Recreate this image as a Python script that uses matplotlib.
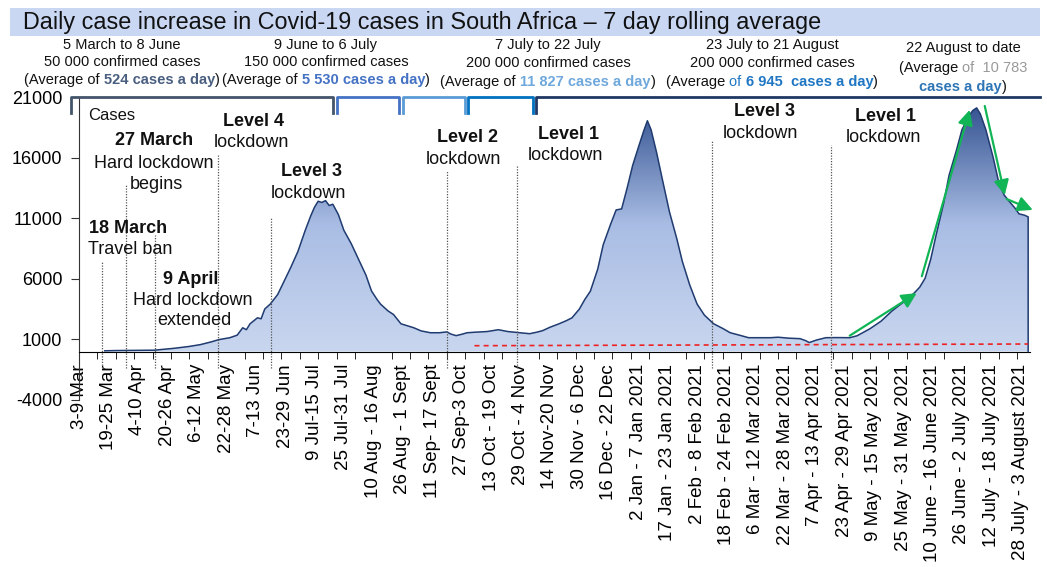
import numpy as np
import matplotlib
matplotlib.use('Agg')
from matplotlib import pyplot as plt
from matplotlib.colors import LinearSegmentedColormap
from matplotlib.patches import PathPatch, Rectangle

plt.rcParams['font.family'] = ['Liberation Sans', 'DejaVu Sans']
plt.rcParams['axes.unicode_minus'] = False

# 7 day rolling average (x = days since 3 March 2020)
days = [14, 20, 30, 41, 52, 60, 66, 72, 76, 82, 86, 89, 91, 93, 97, 99, 101, 104, 108, 111,
        115, 119, 123, 126, 128, 130, 132, 134, 136, 138, 141, 144, 148, 152, 156, 159, 162,
        164, 168, 171, 175, 178, 182, 186, 191, 196, 200, 202, 205, 208, 211, 216, 222, 228,
        233, 240, 245, 249, 252, 256, 261, 265, 268, 272, 275, 278, 282, 285, 289, 292, 295,
        298, 301, 304, 307, 309, 311, 314, 317, 321, 325, 328, 332, 336, 340, 345, 350, 354,
        359, 364, 370, 376, 380, 386, 392, 395, 397, 401, 406, 412, 419, 423, 426, 430, 436,
        442, 448, 454, 457, 460, 463, 466, 470, 473, 477, 480, 484, 486, 488, 490, 493, 497,
        500, 503, 506, 509, 511, 514, 516]
cases = [60, 80, 90, 110, 270, 420, 570, 800, 980, 1140, 1350, 1960, 1800, 2290, 2780, 2700,
         3510, 3920, 4700, 5640, 6900, 8250, 10000, 11200, 11900, 12400, 12300, 12450, 12050,
         12150, 11300, 10000, 8900, 7600, 6300, 5000, 4300, 3900, 3350, 3050, 2290, 2150, 1960,
         1700, 1550, 1550, 1620, 1450, 1310, 1420, 1550, 1600, 1650, 1800, 1650, 1550, 1470,
         1600, 1720, 2000, 2290, 2550, 2780, 3500, 4300, 4980, 6800, 8820, 10500, 11680, 11770,
         13500, 15360, 16800, 18200, 19040, 18300, 16420, 14300, 11520, 9300, 7430, 5500, 3920,
         3000, 2290, 1900, 1550, 1350, 1140, 1140, 1140, 1180, 1100, 1060, 900, 740, 950, 1140,
         1150, 1140, 1300, 1550, 1880, 2500, 3350, 4050, 4820, 5300, 6050, 7600, 9640, 12200,
         14540, 16600, 18300, 19500, 19900, 20100, 19600, 18300, 16000, 13970, 12900, 12340,
         11800, 11360, 11250, 11110]

week_labels = ['3-9 Mar', '19-25 Mar', '4-10 Apr', '20-26 Apr', '6-12 May', '22-28 May',
               '7-13 Jun', '23-29 Jun', '9 Jul-15 Jul', '25 Jul-31 Jul', '10 Aug - 16 Aug',
               '26 Aug - 1 Sept', '11 Sep- 17 Sept', '27 Sep-3 Oct', '13 Oct - 19 Oct',
               '29 Oct - 4 Nov', '14 Nov-20 Nov', '30 Nov - 6 Dec', '16 Dec - 22 Dec',
               '2 Jan - 7 Jan 2021', '17 Jan - 23 Jan 2021', '2 Feb - 8 Feb 2021',
               '18 Feb - 24 Feb 2021', '6 Mar - 12 Mar 2021', '22 Mar - 28 Mar 2021',
               '7 Apr - 13 Apr 2021', '23 Apr - 29 Apr 2021', '9 May - 15 May 2021',
               '25 May - 31 May 2021', '10 June - 16 June 2021', '26 June - 2 July 2021',
               '12 July - 18 July 2021', '28 July - 3 August 2021']

# event markers (day, height of dotted line)
event_days = [12.3, 25.5, 41.3, 75.5, 104.3, 200, 238, 344, 408.7]
event_tops = [7430, 13700, 9640, 16180, 11100, 14950, 15280, 17400, 17000]

# red reference line
ref_days = [215, 516]
ref_cases = [480, 620]

# green trend arrows (start day, start cases, end day, end cases)
arrows = [(419, 1307, 455.4, 4820), (458.2, 6209, 484.2, 19935),
          (492.4, 20262, 503.3, 12909), (504.3, 12582, 518.5, 11683)]

W, H = 1047, 567
fig = plt.figure(figsize=(W / 100, H / 100), dpi=100)
ax = fig.add_axes([79 / W, 1 - 400 / H, (1030 - 79) / W, (400 - 97) / H])

# gradient area
poly = ax.fill_between(days, cases, 0, color='none', lw=0)
cmap = LinearSegmentedColormap.from_list('blu', ['#c9d6ef', '#a9bde4', '#2d4c8c'])
grad = np.linspace(0, 1, 256).reshape(-1, 1)
im = ax.imshow(grad, extent=[0, 517, 0, 21000], origin='lower', aspect='auto',
               cmap=cmap, zorder=1)
clip = PathPatch(poly.get_paths()[0], transform=ax.transData, facecolor='none', edgecolor='none')
ax.add_patch(clip)
im.set_clip_path(clip)
ax.plot(days + [days[-1]], cases + [0], color='#1f3b70', lw=1.1, zorder=3)

ax.plot(ref_days, ref_cases, color='#ee2222', ls=(0, (3, 2.5)), lw=1.2, zorder=4)
ax.vlines(event_days, -1400, event_tops, colors='#555555', linestyles=(0, (1, 1.2)), lw=0.9, zorder=4)

for x0, y0, x1, y1 in arrows:
    ax.annotate('', xy=(x1, y1), xytext=(x0, y0), annotation_clip=False,
                arrowprops=dict(arrowstyle='-|>,head_length=0.9,head_width=0.45',
                                color='#12b556', lw=1.6, shrinkA=0, shrinkB=0), zorder=5)

# annotations in the plot
notes = [(40.8, 17400, '27 March', True), (40.6, 15520, 'Hard lockdown', False),
         (42.2, 13800, 'begins', False), (26.5, 10130, '18 March', True),
         (28, 8410, 'Travel ban', False), (60.8, 5960, '9 April', True),
         (62.1, 4170, 'Hard lockdown', False), (62.5, 2530, 'extended', False),
         (94.6, 18950, 'Level 4', True), (93.5, 17240, 'lockdown', False),
         (126.5, 14870, 'Level 3', True), (124.9, 13070, 'lockdown', False),
         (211.2, 17650, 'Level 2', True), (209.2, 15850, 'lockdown', False),
         (266.1, 17890, 'Level 1', True), (264.7, 16180, 'lockdown', False),
         (372.6, 19770, 'Level 3', True), (370.7, 17970, 'lockdown', False),
         (438.6, 19360, 'Level 1', True), (437.4, 17650, 'lockdown', False)]
for x, y, s, b in notes:
    ax.text(x, y, s, ha='center', va='center', fontsize=13,
            fontweight='bold' if b else 'normal', color='#111111', zorder=6)
ax.text(4.9, 19440, 'Cases', ha='left', va='center', fontsize=12, color='#111111')

# axes styling
ax.set_xlim(0, 517)
ax.set_ylim(-4000, 21000)
for s in ['top', 'right']:
    ax.spines[s].set_visible(False)
ax.spines['bottom'].set_position(('data', 0))
ax.spines['bottom'].set_color('black')
ax.spines['left'].set_color('#333333')
ax.set_yticks(range(-4000, 21001, 5000))
ax.tick_params(axis='y', labelsize=13, length=6, pad=6, color='#333333')
ax.set_xticks(np.arange(len(week_labels)) * 16)
ax.set_xticklabels(week_labels, rotation=90, fontsize=13.5)
ax.set_xticks(np.arange(0, 517, 10), minor=True)
ax.tick_params(axis='x', which='major', length=0, pad=9)
ax.tick_params(axis='x', which='minor', length=5, color='black')

# overlay in pixel coordinates for title, brackets and period texts
ov = fig.add_axes([0, 0, 1, 1], zorder=10)
ov.set_xlim(0, W)
ov.set_ylim(H, 0)
ov.axis('off')
ov.add_patch(Rectangle((10, 8), 1030, 28, color='#c9d7f3', lw=0))
ov.text(23, 22, 'Daily case increase in Covid-19 cases in South Africa \u2013 7 day rolling average',
        fontsize=16.8, va='center', ha='left', color='#111111')

brackets = [(71, 333, '#44546a'), (337, 399, '#4472c4'), (403, 465, '#5b9bd5'), (468, 533, '#0070c0')]
for x0, x1, c in brackets:
    ov.plot([x0, x0, x1, x1], [113, 97, 97, 113], color=c, lw=2)
ov.plot([536, 536, 1040], [113, 97, 97], color='#1f3864', lw=2)

r = fig.canvas.get_renderer()


def rich_line(xc, y, parts, size=10.5):
    arts = [ov.text(0, y, s, color=c, fontweight=w, fontsize=size, va='center', ha='left')
            for s, c, w in parts]
    widths = [t.get_window_extent(r).width for t in arts]
    x = xc - sum(widths) / 2
    for t, wd in zip(arts, widths):
        t.set_x(x)
        x += wd


k = '#111111'
blocks = [
    (122, [(45, [('5 March to 8 June', k, 'normal')]),
           (62, [('50 000 confirmed cases', k, 'normal')]),
           (80, [('(Average of ', k, 'normal'), ('524 cases a day', '#4a5f80', 'bold'), (')', k, 'normal')])]),
    (326, [(45, [('9 June to 6 July', k, 'normal')]),
           (62, [('150 000 confirmed cases', k, 'normal')]),
           (80, [('(Average of ', k, 'normal'), ('5 530 cases a day', '#4472c4', 'bold'), (')', k, 'normal')])]),
    (548, [(45, [('7 July to 22 July', k, 'normal')]),
           (63, [('200 000 confirmed cases', k, 'normal')]),
           (82, [('(Average of ', k, 'normal'), ('11 827 cases a day', '#6fa8dc', 'bold'), (')', k, 'normal')])]),
    (772, [(45, [('23 July to 21 August', k, 'normal')]),
           (63, [('200 000 confirmed cases', k, 'normal')]),
           (82, [('(Average ', k, 'normal'), ('of ', '#1f77c4', 'normal'),
                 ('6 945  cases a day', '#1f77c4', 'bold'), (')', k, 'normal')])]),
    (963, [(48, [('22 August to date', k, 'normal')]),
           (68, [('(Average ', k, 'normal'), ('of  10 783', '#999999', 'normal')]),
           (87, [('cases a day', '#2e75b6', 'bold'), (')', k, 'normal')])]),
]
for xc, lines in blocks:
    for y, parts in lines:
        rich_line(xc, y, parts)

fig.savefig('out.png', dpi=100)
